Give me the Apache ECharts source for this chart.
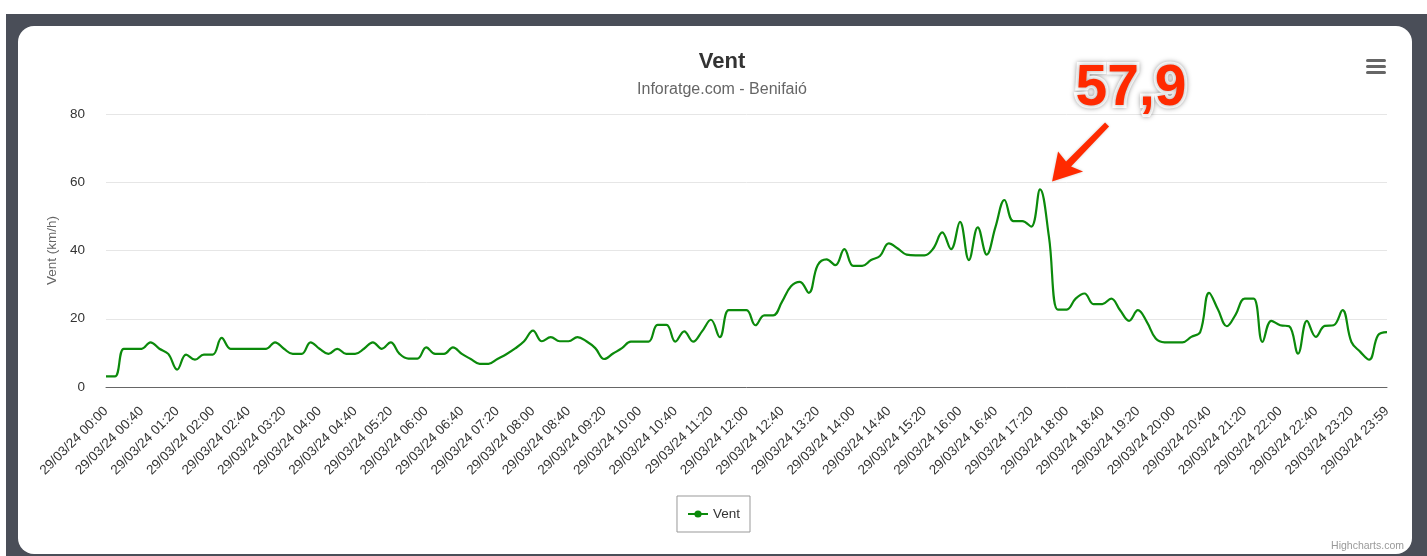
<!DOCTYPE html>
<html>
<head>
<meta charset="utf-8">
<script src="https://cdn.jsdelivr.net/npm/echarts@6/dist/echarts.min.js"></script>
<style>
  html, body { margin: 0; padding: 0; background: #fff; width: 1427px; height: 556px; overflow: hidden; }
  #frame { position: absolute; left: 6px; top: 14px; width: 1421px; height: 560px; background: #4a4e58; }
  #card { position: absolute; left: 18px; top: 26px; width: 1394px; height: 528px; background: #fff; border-radius: 16px; }
  #chart { position: absolute; left: 0; top: 0; width: 1427px; height: 556px; }
</style>
</head>
<body>
<div id="frame"></div>
<div id="card"></div>
<div id="chart"></div>
<script>
// wind readings every 10 minutes, 29/03/24
var windValues = [
  3.1, 3.1, 11.2, 11.2, 11.2, 13.1, 11.2, 9.7, 5.1, 9.5,
  8.0, 9.5, 9.5, 14.4, 11.2, 11.2, 11.2, 11.2, 11.2, 13.1,
  11.2, 9.7, 9.7, 13.1, 11.2, 9.7, 11.2, 9.7, 9.7, 11.2,
  13.1, 11.2, 13.1, 9.7, 8.3, 8.3, 11.6, 9.7, 9.7, 11.6,
  9.7, 8.2, 6.8, 6.8, 8.2, 9.6, 11.3, 13.4, 16.5, 13.4,
  14.6, 13.4, 13.4, 14.6, 13.4, 11.4, 8.2, 9.8, 11.4, 13.3,
  13.3, 13.3, 18.2, 18.2, 13.3, 16.3, 13.3, 16.3, 19.7, 14.6,
  22.5, 22.5, 22.5, 18.1, 21.0, 21.0, 25.0, 29.5, 30.8, 27.6,
  35.7, 37.4, 35.7, 40.4, 35.5, 35.5, 37.2, 38.4, 42.1, 40.6,
  38.8, 38.6, 38.6, 40.6, 45.3, 40.4, 48.4, 37.2, 46.8, 38.8,
  47.0, 54.8, 48.6, 48.6, 47.0, 57.9, 44.0, 22.7, 22.7, 25.9,
  27.4, 24.3, 24.3, 25.9, 22.5, 19.4, 22.5, 19.1, 14.2, 13.1,
  13.1, 13.1, 14.7, 16.1, 27.6, 22.7, 17.8, 21.3, 25.9, 25.9,
  13.2, 19.4, 18.1, 17.8, 9.8, 19.4, 14.7, 17.9, 18.1, 22.5,
  13.2, 10.3, 8.0, 15.2, 16.1
];

// time labels: 00:00 .. 23:50 every 10 min, then 23:59
var timeLabels = [];
for (var m = 0; m < 24 * 60; m += 10) {
  var hh = ('0' + Math.floor(m / 60)).slice(-2);
  var mm = ('0' + (m % 60)).slice(-2);
  timeLabels.push('29/03/24 ' + hh + ':' + mm);
}
timeLabels.push('29/03/24 23:59');

var yTicks = [0, 20, 40, 60, 80];

var chart = echarts.init(document.getElementById('chart'));
var font = 'Liberation Sans, Arial, sans-serif';

chart.setOption({
  backgroundColor: 'transparent',
  animation: false,
  textStyle: { fontFamily: font },
  title: {
    text: 'Vent',
    subtext: 'Inforatge.com - Benifaió',
    left: 717,
    textAlign: 'center',
    top: 46,
    itemGap: 9,
    textStyle: { fontSize: 22, fontWeight: 'bold', color: '#333', fontFamily: font },
    subtextStyle: { fontSize: 16, color: '#666', fontFamily: font }
  },
  grid: { left: 106, right: 40, top: 114, bottom: 169 },
  legend: {
    bottom: 24,
    left: 'center',
    data: ['Vent'],
    borderColor: '#999',
    borderWidth: 1,
    padding: [11, 10, 11, 10],
    itemWidth: 20,
    itemHeight: 9,
    textStyle: { fontSize: 13.5, color: '#333', fontFamily: font }
  },
  xAxis: {
    type: 'category',
    data: timeLabels,
    boundaryGap: false,
    axisLine: { lineStyle: { color: '#666', width: 1 } },
    axisTick: { show: false },
    axisLabel: {
      interval: 3,
      rotate: 45,
      fontSize: 13.5,
      color: '#333',
      margin: 22,
      fontFamily: font
    },
    splitLine: { show: false }
  },
  yAxis: {
    type: 'value',
    min: yTicks[0],
    max: yTicks[yTicks.length - 1],
    interval: 20,
    name: 'Vent (km/h)',
    nameLocation: 'middle',
    nameGap: 47,
    nameTextStyle: { fontSize: 13.5, color: '#666', fontFamily: font },
    axisLine: { show: false },
    axisTick: { show: false },
    axisLabel: { fontSize: 13.5, color: '#333', margin: 21, fontFamily: font },
    splitLine: { lineStyle: { color: '#e6e6e6', width: 1 } }
  },
  series: [{
    name: 'Vent',
    type: 'line',
    data: windValues,
    smooth: 0.4,
    symbol: 'circle',
    symbolSize: 8,
    showSymbol: false,
    itemStyle: { color: '#0b8a0b' },
    lineStyle: { color: '#0b8a0b', width: 2.2 },
    markPoint: {
      symbol: 'circle',
      symbolSize: 0,
      data: [{ type: 'max' }],
      label: {
        show: true,
        position: 'inside',
        offset: [91, -100],
        formatter: function (p) { return String(p.value).replace('.', ','); },
        fontSize: 57,
        fontWeight: 'bold',
        color: '#ff2a00',
        textBorderColor: '#fff',
        textBorderWidth: 6,
        textShadowColor: 'rgba(0,0,0,0.35)',
        textShadowBlur: 5,
        fontFamily: font
      }
    }
  }]
});

// red arrow pointing at the peak, placed from the data through the axes
var peakIdx = windValues.indexOf(Math.max.apply(null, windValues));
var peak = chart.convertToPixel({ seriesIndex: 0 }, [peakIdx, windValues[peakIdx]]);
var tx = peak[0] + 12, ty = peak[1] - 8;
var arrowPts = [[0, 0], [6, -30], [14, -20], [53, -59], [57, -55], [19, -15], [31, -10]];

chart.setOption({
  graphic: [
    {
      type: 'polygon',
      shape: { points: arrowPts.map(function (p) { return [tx + p[0], ty + p[1]]; }) },
      style: { fill: '#ff2a00', shadowBlur: 3, shadowColor: 'rgba(0,0,0,0.2)' },
      z: 100
    },
    {
      type: 'group',
      left: 1366,
      top: 59,
      children: [
        { type: 'rect', shape: { x: 0, y: 0, width: 20, height: 3, r: 1.5 }, style: { fill: '#666' } },
        { type: 'rect', shape: { x: 0, y: 6, width: 20, height: 3, r: 1.5 }, style: { fill: '#666' } },
        { type: 'rect', shape: { x: 0, y: 12, width: 20, height: 3, r: 1.5 }, style: { fill: '#666' } }
      ]
    },
    {
      type: 'text',
      right: 23,
      top: 541,
      style: { text: 'Highcharts.com', fill: '#999', fontSize: 10.5, fontFamily: font }
    }
  ]
});
</script>
</body>
</html>
